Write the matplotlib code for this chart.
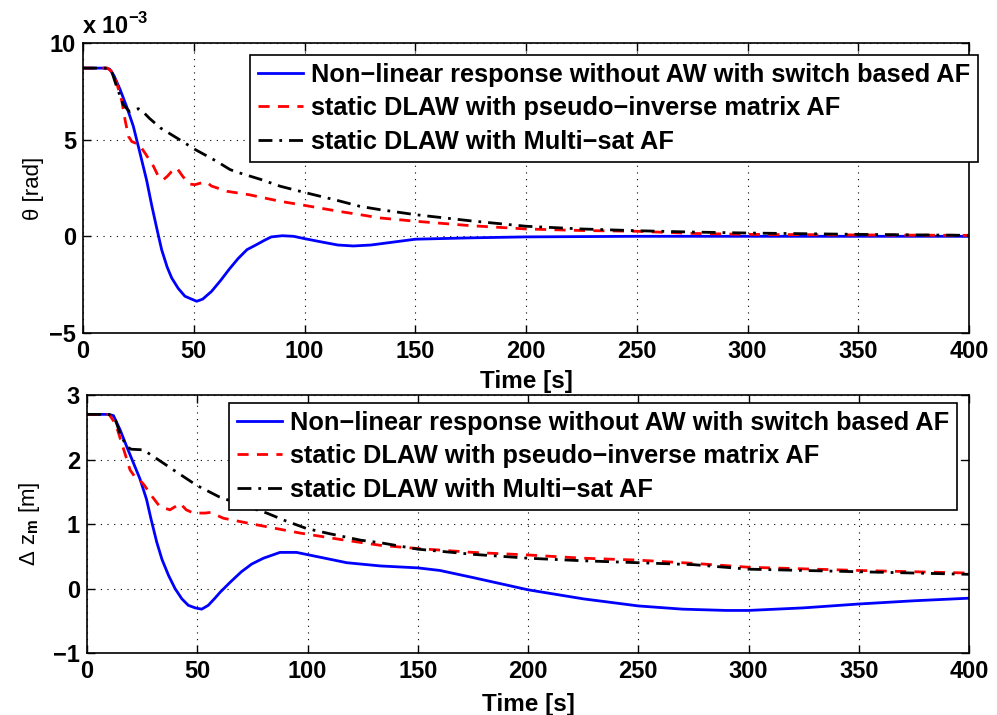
import numpy as np
import matplotlib
matplotlib.use("Agg")
import matplotlib.pyplot as plt
from matplotlib.ticker import FuncFormatter

plt.rcParams['font.family'] = ['Liberation Sans', 'DejaVu Sans']
plt.rcParams['font.weight'] = 'bold'
plt.rcParams['mathtext.fontset'] = 'custom'
plt.rcParams['mathtext.rm'] = 'Liberation Sans'
plt.rcParams['mathtext.bf'] = 'Liberation Sans:bold'

labels = ["Non\u2212linear response without AW with switch based AF",
          "static DLAW with pseudo\u2212inverse matrix AF",
          "static DLAW with Multi\u2212sat AF"]

# theta (x 1e-3 rad)
t_th_blue = [0, 10, 12, 14, 16.7, 19.7, 22.7, 25.5, 28.7, 31, 33.5, 35.5, 38, 40, 43, 46, 48,
             51.3, 54, 58, 62, 66, 70, 74, 78, 82, 85, 90, 95, 100, 108, 115, 122, 130, 140,
             150, 175, 200, 250, 300, 400]
th_blue = [8.7, 8.7, 8.65, 8.3, 7.6, 6.7, 5.69, 4.4, 2.9, 1.6, 0.3, -0.7, -1.6, -2.15, -2.7,
           -3.1, -3.2, -3.36, -3.25, -2.85, -2.3, -1.7, -1.15, -0.69, -0.45, -0.2, -0.03, 0.03,
           0.0, -0.12, -0.3, -0.45, -0.5, -0.45, -0.3, -0.15, -0.08, -0.03, 0.0, 0.0, 0.0]
t_th_red = [0, 11, 13.7, 15.5, 17.5, 19, 20.5, 22, 23.5, 25, 28, 31.8, 34, 36.3, 38, 40, 42.3,
            45, 48, 50.5, 53, 55.8, 58, 64.9, 75, 89, 100, 115, 125, 134, 150, 175, 200, 225,
            250, 275, 300, 350, 400]
th_red = [8.7, 8.7, 8.45, 7.8, 7.0, 6.0, 5.17, 4.9, 4.83, 4.8, 4.3, 3.62, 3.1, 2.93, 3.1, 3.35,
          3.54, 3.1, 2.7, 2.67, 2.75, 2.8, 2.6, 2.33, 2.15, 1.81, 1.6, 1.3, 1.12, 0.95, 0.78,
          0.55, 0.38, 0.3, 0.26, 0.15, 0.1, 0.07, 0.05]
t_th_black = [0, 11, 13, 15, 18.2, 21, 25, 27, 30, 35, 42.3, 50.6, 60, 66.4, 70, 80, 89, 101,
              115, 125, 134, 150, 175, 200, 225, 250, 275, 300, 350, 400]
th_black = [8.7, 8.7, 8.5, 7.8, 6.8, 6.45, 6.6, 6.45, 6.1, 5.6, 5.09, 4.49, 3.9, 3.45, 3.3,
            2.95, 2.59, 2.24, 1.85, 1.55, 1.38, 1.12, 0.8, 0.52, 0.38, 0.29, 0.22, 0.17, 0.1,
            0.05]

# delta z_m (m)
t_z_blue = [0, 10, 12, 15, 18, 21, 24, 27, 29, 31.6, 34, 37, 39.9, 43, 45.9, 49, 52, 55, 58,
            60.3, 65, 70, 74.7, 80, 87.5, 95, 105, 117.8, 133, 150, 160, 175, 200, 225, 250,
            270, 290, 300, 325, 350, 375, 400]
z_blue = [2.7, 2.7, 2.68, 2.46, 2.2, 1.95, 1.7, 1.38, 1.08, 0.72, 0.45, 0.2, 0.0, -0.16,
          -0.26, -0.3, -0.32, -0.26, -0.15, -0.06, 0.1, 0.26, 0.38, 0.47, 0.56, 0.56, 0.49,
          0.4, 0.35, 0.32, 0.28, 0.17, -0.02, -0.16, -0.27, -0.32, -0.34, -0.34, -0.3,
          -0.24, -0.19, -0.15]
t_z_red = [0, 10, 13, 16.5, 19.5, 21.5, 23.3, 26, 29, 33, 37.6, 40, 42.2, 45, 48.2, 53.5, 56,
           61.8, 75, 96.6, 115, 133, 150, 175, 200, 225, 250, 275, 300, 350, 400]
z_red = [2.7, 2.7, 2.55, 2.17, 1.84, 1.74, 1.71, 1.6, 1.45, 1.27, 1.22, 1.27, 1.32, 1.22, 1.17,
         1.17, 1.18, 1.09, 1.0, 0.86, 0.76, 0.67, 0.62, 0.56, 0.52, 0.47, 0.44, 0.39, 0.33,
         0.28, 0.24]
t_z_black = [0, 10, 13, 15, 18, 20, 25.5, 30, 40, 49.7, 60, 70, 81.5, 90, 99.6, 110, 124, 133,
             150, 175, 200, 225, 250, 275, 300, 350, 400]
z_black = [2.7, 2.7, 2.6, 2.4, 2.2, 2.16, 2.15, 2.05, 1.82, 1.6, 1.42, 1.3, 1.17, 1.05, 0.93,
           0.85, 0.75, 0.71, 0.61, 0.53, 0.47, 0.43, 0.40, 0.37, 0.30, 0.26, 0.22]

x_ticks = np.arange(0, 401, 50)

fig = plt.figure(figsize=(9.97, 7.15), dpi=100)
ax1 = fig.add_axes([0.0833, 0.5343, 0.8887, 0.4056])
ax2 = fig.add_axes([0.0873, 0.0867, 0.8847, 0.3608])

lw = 2.0
fs = 17
legend_fs = 18.3
dashed = (0, (4, 3))
dashdot = (0, (5, 2.5, 1, 2.5))


def style(ax, pad):
    ax.set_xlim(0, 400)
    ax.set_xticks(x_ticks)
    ax.grid(True, linestyle=(0, (1, 5)), color='black', linewidth=0.8)
    ax.tick_params(direction='in', top=True, right=True, length=6, width=1,
                   labelsize=fs, pad=5)
    for s in ax.spines.values():
        s.set_linewidth(1.2)
    for lab in ax.get_xticklabels() + ax.get_yticklabels():
        lab.set_fontweight('bold')
    ax.set_xlabel("Time [s]", fontsize=17.5, fontweight='bold', labelpad=pad)


def minus_fmt(v, p, scale=1.0):
    n = int(round(v / scale))
    return ("\u2212%d" % -n) if n < 0 else "%d" % n


th = 1e-3
ax1.plot(t_th_blue, np.array(th_blue) * th, color='blue', lw=lw, label=labels[0])
ax1.plot(t_th_red, np.array(th_red) * th, color='red', lw=lw, ls=dashed, label=labels[1])
ax1.plot(t_th_black, np.array(th_black) * th, color='black', lw=lw, ls=dashdot, label=labels[2])
ax1.set_ylim(-5e-3, 10e-3)
ax1.set_yticks([-5e-3, 0, 5e-3, 10e-3])
ax1.yaxis.set_major_formatter(FuncFormatter(lambda v, p: minus_fmt(v, p, th)))
style(ax1, 5)
ax1.set_ylabel("\u03b8 [rad]", fontsize=16, fontweight='normal', labelpad=4)
fig.text(0.082, 0.953, "x 10$^{\\mathbf{\u2212}\\mathbf{3}}$", fontsize=fs, fontweight='bold',
         ha='left', va='baseline')

ax2.plot(t_z_blue, z_blue, color='blue', lw=lw, label=labels[0])
ax2.plot(t_z_red, z_red, color='red', lw=lw, ls=dashed, label=labels[1])
ax2.plot(t_z_black, z_black, color='black', lw=lw, ls=dashdot, label=labels[2])
ax2.set_ylim(-1, 3)
ax2.set_yticks([-1, 0, 1, 2, 3])
ax2.yaxis.set_major_formatter(FuncFormatter(minus_fmt))
style(ax2, 7)
ax2.set_ylabel("\u0394 z$_{\\mathbf{m}}$ [m]", fontsize=16, fontweight='normal', labelpad=8)

for ax, anchor in ((ax1, (250 / 997, 1 - 55 / 715)), (ax2, (229 / 997, 1 - 403 / 715))):
    leg = ax.legend(loc='upper left', bbox_to_anchor=anchor, bbox_transform=fig.transFigure,
                    fontsize=legend_fs, frameon=True, fancybox=False, edgecolor='black',
                    handlelength=1.8, handletextpad=0.3, borderpad=0.3, labelspacing=0.38,
                    borderaxespad=0, framealpha=1)
    leg.get_frame().set_linewidth(1.2)
    for txt in leg.get_texts():
        txt.set_fontweight('bold')

fig.savefig("out.png", dpi=100)
